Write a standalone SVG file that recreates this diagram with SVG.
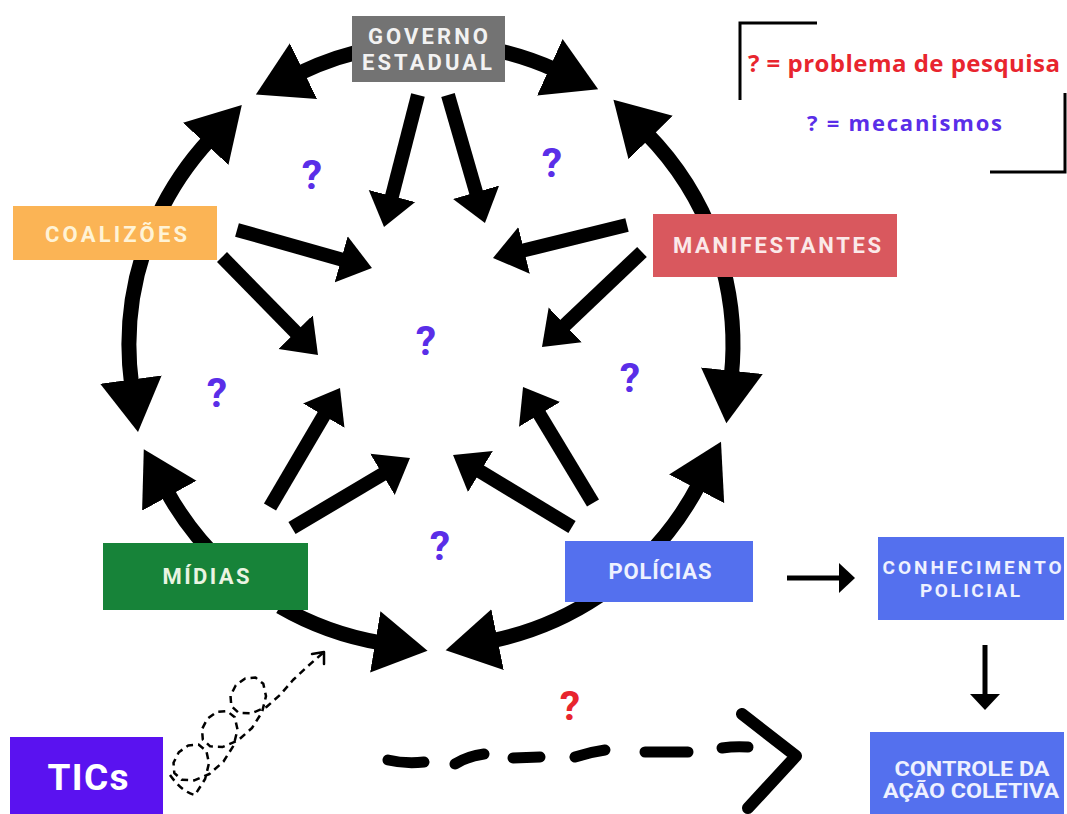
<svg xmlns="http://www.w3.org/2000/svg" width="1067" height="814" viewBox="0 0 1067 814">
<defs>
<style>
.ring{fill:none;stroke:#000;stroke-width:15;marker-end:url(#bigHead);}
.spoke{fill:none;stroke:#000;stroke-width:14;marker-end:url(#midHead);}
.thin{fill:none;stroke:#000;stroke-width:5;marker-end:url(#smallHead);}
.lbl{font-family:Roboto,"Liberation Sans",sans-serif;font-weight:bold;text-anchor:middle;}
.q{font-family:Roboto,"Liberation Sans",sans-serif;font-weight:bold;font-size:41px;fill:#5a2ee8;text-anchor:middle;}
.dash{fill:none;stroke:#000;stroke-width:11;stroke-linecap:round;}
.blue{fill:#5470ee;}
</style>
<marker id="bigHead" markerUnits="userSpaceOnUse" markerWidth="56" markerHeight="64" viewBox="0 -32 56 64" refX="6" refY="0" orient="auto"><path d="M0,-31 L53,0 L0,31 Z" fill="#000"/></marker>
<marker id="midHead" markerUnits="userSpaceOnUse" markerWidth="34" markerHeight="50" viewBox="0 -25 34 50" refX="4" refY="0" orient="auto"><path d="M0,-24 L32,0 L0,24 Z" fill="#000"/></marker>
<marker id="smallHead" markerUnits="userSpaceOnUse" markerWidth="18" markerHeight="32" viewBox="0 -16 18 32" refX="2" refY="0" orient="auto"><path d="M0,-15 L16,0 L0,15 Z" fill="#000"/></marker>
</defs>
<rect width="1067" height="814" fill="#fff"/>

<g id="connectors">
<path class="ring" d="M378.6,47.6 A302,302 0 0 0 298.1,73.8"/>
<path class="ring" d="M157.3,217.4 A302,302 0 0 1 209.8,139.4"/>
<path class="ring" d="M483.4,47.6 A302,302 0 0 1 555.3,69.8"/>
<path class="ring" d="M714.8,241.7 A302,302 0 0 0 646.4,133.3"/>
<path class="ring" d="M722.7,266.8 A302,302 0 0 1 731.3,376.6"/>
<path class="ring" d="M644.5,558.5 A302,302 0 0 0 699.4,483.5"/>
<path class="ring" d="M147.2,241.7 A302,302 0 0 0 131.7,385.5"/>
<path class="ring" d="M225,565.9 A302,302 0 0 1 166.4,490.5"/>
<path class="ring" d="M280,606.5 A302,302 0 0 0 381.2,642.9"/>
<path class="ring" d="M599.9,595.4 A302,302 0 0 1 491.7,640.8"/>

<path class="spoke" d="M418,95 L391,199.9"/>
<path class="spoke" d="M448,95 L477.2,196.1"/>
<path class="spoke" d="M237,230 L345,260.4"/>
<path class="spoke" d="M222,257 L298.4,335"/>
<path class="spoke" d="M627,225 L520.2,251.3"/>
<path class="spoke" d="M642,252 L562.3,327.7"/>
<path class="spoke" d="M270,507 L325.8,412.1"/>
<path class="spoke" d="M292,528 L385.9,472.3"/>
<path class="spoke" d="M572,527 L477,469.5"/>
<path class="spoke" d="M593,503 L537.5,411"/>

<path class="thin" d="M787,578 L841,578"/>
<path class="thin" d="M985,645 L985,696"/>

<path fill="none" stroke="#000" stroke-width="2.5" stroke-dasharray="7 5" stroke-linejoin="round" d="M170,775 Q182,792 195,795 L205.1,779 L209,763.1 L206.3,750.8 L198.5,744.6 L188.2,745.4 L178.8,752.3 L173.5,762.7 L174.3,773 L181.7,779.8 L194.3,780.4 L209.4,774 L223.5,761.5 L233.6,745.5 L237.5,729.6 L234.8,717.3 L227,711.1 L216.7,711.9 L207.3,718.8 L202,729.2 L202.8,739.5 L210.2,746.3 L222.8,746.9 L237.9,740.5 L252,728 L262.1,712 L266,696.1 L263.3,683.8 L255.5,677.6 L245.2,678.4 L235.8,685.3 L230.5,695.7 L231.3,706 L238.7,712.8 L251.3,713.4 L266.4,707 L280.5,694.5 L293,680 L308,666 L324,652"/>
<path fill="none" stroke="#000" stroke-width="2.5" stroke-linejoin="round" stroke-linecap="round" d="M312,654 L324,652 L324,664"/>

<path class="dash" d="M388,760 Q405,764 424,762"/>
<path class="dash" d="M455,764 Q468,756 484,754"/>
<path class="dash" d="M513,758 L540,757"/>
<path class="dash" d="M575,757 Q590,752 605,750"/>
<path class="dash" d="M645,752 L688,752"/>
<path class="dash" d="M722,748 Q735,746 748,747"/>
<path fill="none" stroke="#000" stroke-width="12" stroke-linecap="round" stroke-linejoin="round" d="M742,714 L796,756 L748,808"/>
</g>

<g id="governo">
<rect x="352" y="16" width="153" height="66" fill="#737373"/>
<text class="lbl" x="428" y="44" fill="#f2f2f2" font-size="22" textLength="120">GOVERNO</text>
<text class="lbl" x="427" y="70" fill="#f2f2f2" font-size="22" textLength="130">ESTADUAL</text>
</g>
<g id="coalizoes">
<rect x="13" y="206" width="204" height="54" fill="#fbb455"/>
<text class="lbl" x="116" y="242" fill="#fff3d6" font-size="22" textLength="142">COALIZÕES</text>
</g>
<g id="manifestantes">
<rect x="653" y="214" width="244" height="63" fill="#d9585e"/>
<text class="lbl" x="777" y="253" fill="#fbe9e9" font-size="22" textLength="208">MANIFESTANTES</text>
</g>
<g id="midias">
<rect x="103" y="543" width="205" height="67" fill="#178339"/>
<text class="lbl" x="206" y="584" fill="#eaf4e2" font-size="22" textLength="87">MÍDIAS</text>
</g>
<g id="policias">
<rect class="blue" x="565" y="541" width="188" height="61"/>
<text class="lbl" x="660" y="579" fill="#eef1ff" font-size="22" textLength="103">POLÍCIAS</text>
</g>
<g id="conhecimento">
<rect class="blue" x="878" y="537" width="186" height="83"/>
<text class="lbl" x="972" y="574" fill="#eef1ff" font-size="19" textLength="179">CONHECIMENTO</text>
<text class="lbl" x="970" y="597" fill="#eef1ff" font-size="19" textLength="100">POLICIAL</text>
</g>
<g id="controle">
<rect class="blue" x="870" y="732" width="194" height="82"/>
<text class="lbl" x="972" y="776" fill="#eef1ff" font-size="20" textLength="155" lengthAdjust="spacingAndGlyphs">CONTROLE DA</text>
<text class="lbl" x="971" y="798" fill="#eef1ff" font-size="20" textLength="176" lengthAdjust="spacingAndGlyphs">AÇÃO COLETIVA</text>
</g>
<g id="tics">
<rect x="10" y="737" width="153" height="77" fill="#5a12f0"/>
<text class="lbl" x="88" y="790" fill="#fff" font-size="37" textLength="81">TICs</text>
</g>

<g id="questions">
<text class="q" x="312" y="189">?</text>
<text class="q" x="552" y="177">?</text>
<text class="q" x="426" y="355">?</text>
<text class="q" x="217" y="407">?</text>
<text class="q" x="630" y="392">?</text>
<text class="q" x="440" y="560">?</text>
<text class="q" x="570" y="720" style="fill:#e8252e">?</text>
</g>

<g id="legend">
<path d="M817,23 L740,23 L740,100" fill="none" stroke="#000" stroke-width="3"/>
<path d="M1065,93 L1065,172 L990,172" fill="none" stroke="#000" stroke-width="3"/>
<text x="748" y="72" font-family="'Open Sans','Liberation Sans',sans-serif" font-weight="bold" font-size="24" fill="#e8252e" textLength="312">? = problema de pesquisa</text>
<text x="807" y="131" font-family="'Open Sans','Liberation Sans',sans-serif" font-weight="bold" font-size="22" fill="#5a2ee8" textLength="195">? = mecanismos</text>
</g>
</svg>
